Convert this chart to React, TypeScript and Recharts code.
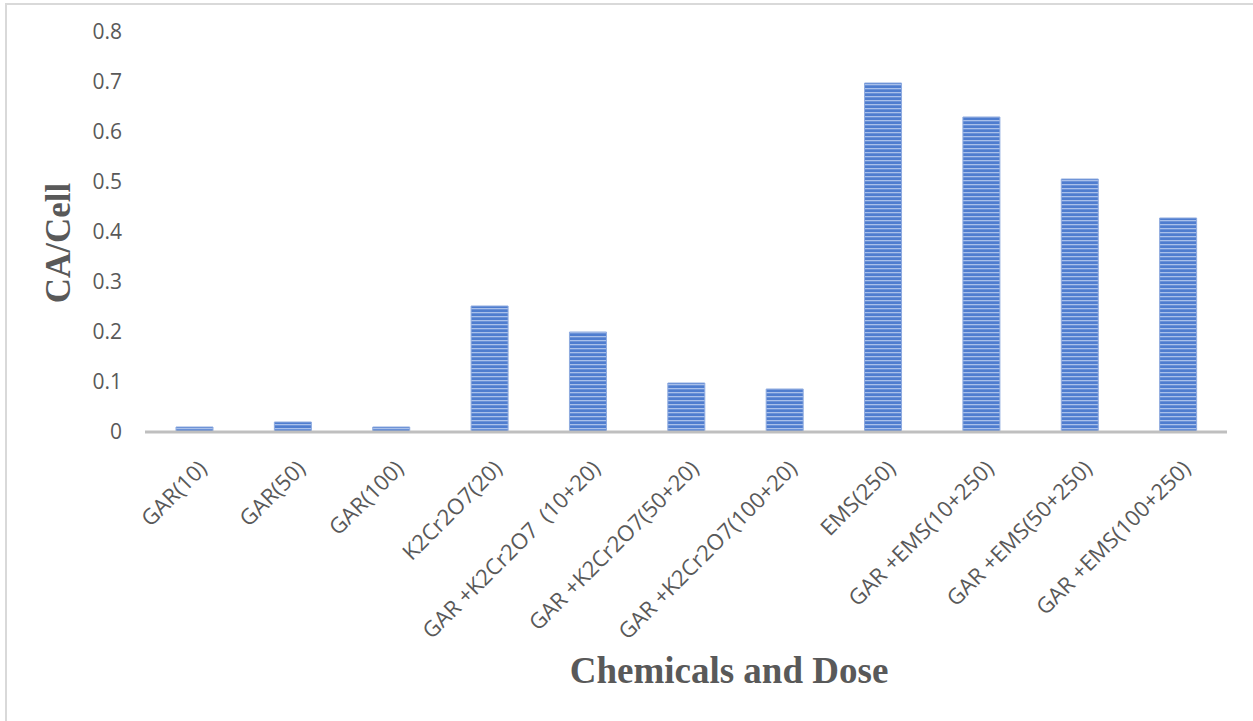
import React from 'react';
import { BarChart, Bar, XAxis, YAxis, Label } from 'recharts';

const categories = [
  'GAR(10)',
  'GAR(50)',
  'GAR(100)',
  'K2Cr2O7(20)',
  'GAR +K2Cr2O7  (10+20)',
  'GAR +K2Cr2O7(50+20)',
  'GAR +K2Cr2O7(100+20)',
  'EMS(250)',
  'GAR +EMS(10+250)',
  'GAR +EMS(50+250)',
  'GAR +EMS(100+250)',
];
const caPerCell = [0.01, 0.02, 0.01, 0.252, 0.2, 0.098, 0.086, 0.698, 0.63, 0.506, 0.428];
const yTicks = [0, 0.1, 0.2, 0.3, 0.4, 0.5, 0.6, 0.7, 0.8];

const data = categories.map((name, i) => ({ name, value: caPerCell[i] }));

const XTick = (props: any) => {
  const { x, y, payload } = props;
  const ax = x + 14;
  const ay = y + 38;
  return (
    <text
      x={ax}
      y={ay}
      textAnchor="end"
      transform={`rotate(-45, ${ax}, ${ay})`}
      fill="#595959"
      fontSize={22}
      fontFamily="'Open Sans', sans-serif"
      style={{ whiteSpace: 'pre' }}
    >
      {payload.value}
    </text>
  );
};

export default function App() {
  return (
    <div style={{ position: 'absolute', left: 0, top: 0, width: 1253, height: 721, overflow: 'hidden', background: '#fff' }}>
      <div
        style={{
          position: 'absolute',
          left: 5,
          top: 3,
          width: 1300,
          height: 800,
          borderLeft: '2px solid #d9d9d9',
          borderTop: '2px solid #d9d9d9',
        }}
      />
      <div style={{ position: 'absolute', left: 0, top: 0 }}>
        <BarChart
          width={1253}
          height={721}
          data={data}
          margin={{ top: 32, right: 26, bottom: 0, left: 0 }}
          barCategoryGap={0}
        >
          <defs>
            <pattern id="hstripes" patternUnits="userSpaceOnUse" width="4" height="4">
              <rect x="0" y="0" width="4" height="4" fill="#4f7dcf" />
              <rect x="0" y="0" width="4" height="1.3" fill="#a9c0ea" />
            </pattern>
          </defs>
          <XAxis
            dataKey="name"
            interval={0}
            height={289}
            tickLine={false}
            tickSize={0}
            tickMargin={0}
            axisLine={{ stroke: '#bfbfbf', strokeWidth: 3 }}
            tick={<XTick />}
          >
            <Label
              content={() => (
                <text
                  x={729}
                  y={683}
                  textAnchor="middle"
                  fill="#595959"
                  fontSize={37}
                  fontWeight="bold"
                  fontFamily="'Liberation Serif', 'Times New Roman', serif"
                >
                  Chemicals and Dose
                </text>
              )}
            />
          </XAxis>
          <YAxis
            width={145}
            domain={[0, 0.8]}
            ticks={yTicks}
            axisLine={false}
            tickLine={false}
            tickSize={0}
            tickMargin={23}
            tick={{ fill: '#595959', fontSize: 21, fontFamily: "'Open Sans', sans-serif" }}
          >
            <Label
              content={() => (
                <text
                  x={0}
                  y={0}
                  transform="translate(70, 243) rotate(-90)"
                  textAnchor="middle"
                  fill="#595959"
                  fontSize={35}
                  fontWeight="bold"
                  fontFamily="'Liberation Serif', 'Times New Roman', serif"
                >
                  CA/Cell
                </text>
              )}
            />
          </YAxis>
          <Bar
            dataKey="value"
            barSize={37}
            fill="url(#hstripes)"
            stroke="#8fabdf"
            strokeWidth={1}
            isAnimationActive={false}
          />
        </BarChart>
      </div>
    </div>
  );
}
